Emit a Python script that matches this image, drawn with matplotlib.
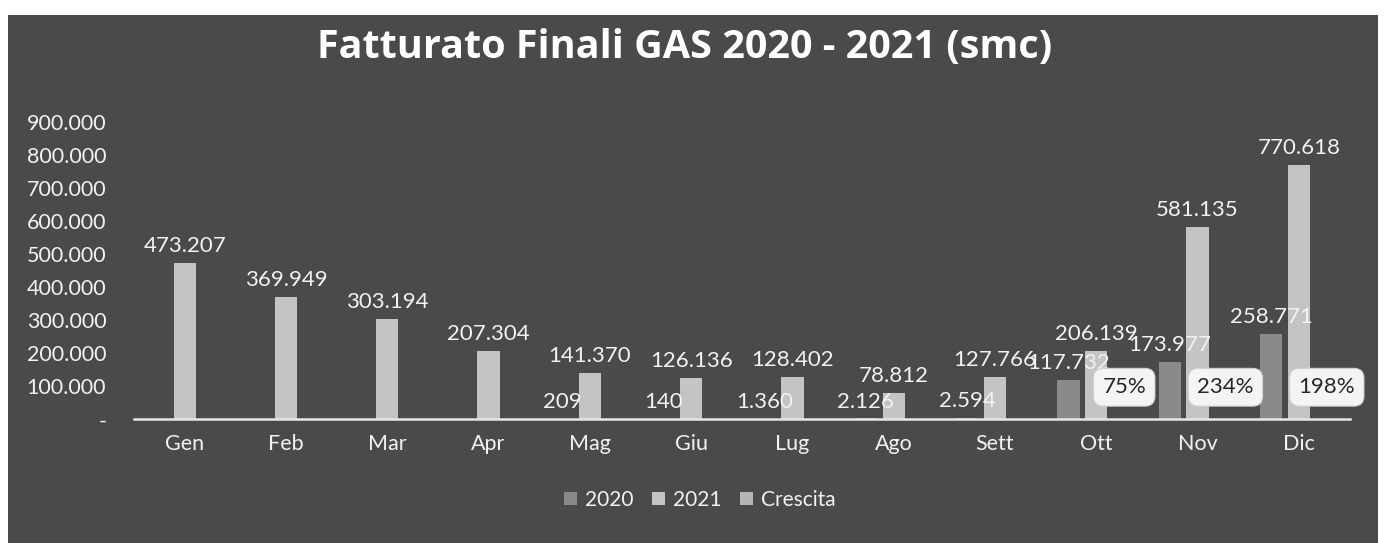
import matplotlib
matplotlib.use("Agg")
import matplotlib.pyplot as plt
from matplotlib.patches import Rectangle
import numpy as np

months = ["Gen", "Feb", "Mar", "Apr", "Mag", "Giu", "Lug", "Ago", "Sett", "Ott", "Nov", "Dic"]
values_2020 = [np.nan, np.nan, np.nan, np.nan, 209, 140, 1360, 2126, 2594, 117732, 173977, 258771]
values_2021 = [473207, 369949, 303194, 207304, 141370, 126136, 128402, 78812, 127766, 206139, 581135, 770618]
crescita = [np.nan] * 9 + [0.75, 2.34, 1.98]
y_ticks = [0, 100000, 200000, 300000, 400000, 500000, 600000, 700000, 800000, 900000]

plt.rcParams['font.family'] = ['Lato', 'DejaVu Sans']

BG = "#4a4a4a"
C2020 = "#8a8a8a"
C2021 = "#c4c4c4"
CCRE = "#b4b4b4"
TXT = "#f2f2f2"

def fmt(v):
    return f"{v:,.0f}".replace(",", ".")

fig = plt.figure(figsize=(13.86, 5.43), dpi=100, facecolor="white")
fig.patches.append(Rectangle((8 / 1386, 0), 1370 / 1386, 1 - 15 / 543,
                             transform=fig.transFigure, facecolor=BG,
                             edgecolor="none", zorder=-10))

ax = fig.add_axes([0.0967, 0.228, 0.877, 0.547])
ax.set_facecolor("none")

x = np.arange(len(months))
w = 0.22
off = 0.275

b20 = ax.bar(x - off, values_2020, w, color=C2020, label="2020", zorder=2)
b21 = ax.bar(x, values_2021, w, color=C2021, label="2021", zorder=2)
bcr = ax.bar(x + off, crescita, w, color=CCRE, label="Crescita", zorder=2)

for xi, v in zip(x, values_2020):
    if not np.isnan(v):
        ax.annotate(fmt(v), (xi - off, v), xytext=(0, 5), textcoords="offset points",
                    ha="center", va="bottom", color=TXT, fontsize=16, zorder=4)
for xi, v in zip(x, values_2021):
    ax.annotate(fmt(v), (xi, v), xytext=(0, 5), textcoords="offset points",
                ha="center", va="bottom", color=TXT, fontsize=16, zorder=4)
for xi, v in zip(x, crescita):
    if not np.isnan(v):
        ax.annotate(f"{v * 100:.0f}%", (xi + off, 0), xytext=(0, 23), textcoords="offset points",
                    ha="center", va="center", color="#262626", fontsize=16, zorder=5,
                    bbox=dict(boxstyle="round,pad=0.4,rounding_size=0.45",
                              facecolor="#f4f4f4", edgecolor="#d0d0d0", lw=0.8))

ax.set_xlim(-0.5, len(months) - 0.5)
ax.set_ylim(0, 900000)
ax.set_yticks(y_ticks)
ax.set_yticklabels(["-" if t == 0 else fmt(t) for t in y_ticks])
ax.set_xticks(x)
ax.set_xticklabels(months)
ax.tick_params(axis="both", length=0, colors=TXT, labelsize=15.5)
ax.tick_params(axis="x", pad=11)
ax.tick_params(axis="y", pad=20)
for s in ["top", "right", "left"]:
    ax.spines[s].set_visible(False)
ax.spines["bottom"].set_color("#e6e6e6")
ax.spines["bottom"].set_linewidth(1.8)

fig.text(0.494, 0.913, "Fatturato Finali GAS 2020 - 2021 (smc)", ha="center", va="center",
         color="white", fontsize=28.5, fontweight="bold", family=["Open Sans", "DejaVu Sans"])

fig.legend(handles=[b20, b21, bcr], labels=["2020", "2021", "Crescita"],
           loc="center", bbox_to_anchor=(0.505, 0.08), ncol=3, frameon=False,
           fontsize=15, labelcolor=TXT, handlelength=0.6, handleheight=0.6,
           handletextpad=0.4, columnspacing=0.9)

fig.savefig("out.png", dpi=100, facecolor=fig.get_facecolor())
